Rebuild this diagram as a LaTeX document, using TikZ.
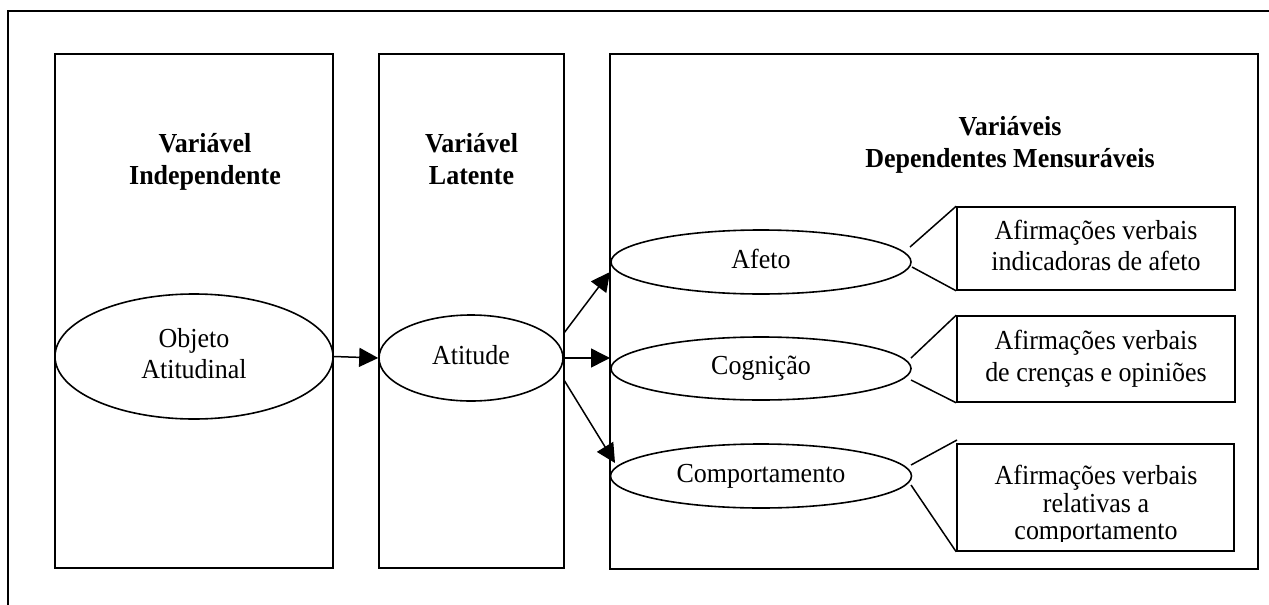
\documentclass[tikz,border=0pt]{standalone}
\usepackage{fontspec}
\setmainfont{Liberation Serif}[FakeStretch=0.945]
\usetikzlibrary{shapes.geometric,arrows.meta}
\newcommand\diagfs{\fontsize{27.5}{31.6}\selectfont}
\newcommand\tightfs{\fontsize{27.5}{26.6}\selectfont}
\begin{document}
\begin{tikzpicture}[x=1pt,y=-1pt,line width=1.6pt,
  panel/.style={draw,rectangle,inner sep=0pt},
  oval/.style={draw,ellipse,inner sep=0pt,align=center,font=\diagfs},
  head/.style={inner sep=0pt,align=center,font=\diagfs\bfseries},
  note/.style={draw,rectangle,inner sep=0pt,align=center,font=\diagfs},
  plain/.style={inner sep=0pt,align=center},
  arr/.style={line width=1.5pt,-{Triangle[length=19pt,width=19pt]}},
  tie/.style={line width=1.5pt}]
\useasboundingbox (0,0) rectangle (1269,605);

% page frame (top and left edges only)
\draw[line width=2pt] (8,605) -- (8,11) -- (1269,11);

% the three columns
\node[panel,minimum width=278pt,minimum height=514pt] (colA) at (194,311) {};
\node[panel,minimum width=185pt,minimum height=514pt] (colB) at (471.5,311) {};
\node[panel,minimum width=648pt,minimum height=515pt] (colC) at (934,311.5) {};

% column headings
\node[head] (hA) at (205,162.2) {\strut Variável\\\strut Independente};
\node[head] (hB) at (471.5,162.2) {\strut Variável\\\strut Latente};
\node[head] (hC) at (1010,145.2) {\strut Variáveis\\\strut Dependentes Mensuráveis};

% ellipses
\node[oval,minimum width=278pt,minimum height=125pt] (obj) at (194,356.5) {\strut Objeto\\\strut Atitudinal};
\node[oval,minimum width=184pt,minimum height=86pt] (att) at (471,358) {\strut Atitude};
\node[oval,minimum width=300pt,minimum height=64pt] (afe) at (761,262) {\strut Afeto};
\node[oval,minimum width=300pt,minimum height=63pt] (cog) at (761,368.5) {\strut Cognição};
\node[oval,minimum width=301pt,minimum height=64pt] (com) at (761,476) {\strut Comportamento};

% statement boxes
\node[note,minimum width=278pt,minimum height=83pt] (sA) at (1096,248.5) {\strut Afirmações verbais\\\strut indicadoras de afeto};
\node[note,minimum width=278pt,minimum height=86pt] (sB) at (1096,359) {\strut Afirmações verbais\\\strut de crenças e opiniões};
\node[panel,minimum width=277pt,minimum height=107pt] (sC) at (1095.5,497.5) {};
\begin{scope}
  \clip (957,444) rectangle (1235,541);
  \node[plain,font=\tightfs] (tC) at (1096,506.2) {\strut Afirmações verbais\\\strut relativas a\\\strut comportamento};
\end{scope}

% arrows
\draw[arr] (obj.east) -- (att.west);
\coordinate (o1) at (564,333);
\coordinate (o2) at (564,358);
\coordinate (o3) at (564,380);
\coordinate (i1) at (610,272);
\coordinate (i2) at (610,358);
\coordinate (i3) at (615,463);
\draw[arr] (o1) -- (i1);
\draw[arr] (o2) -- (i2);
\draw[arr] (o3) -- (i3);

% callout ties from ellipses to statement boxes
\coordinate (a1) at (910,247);
\coordinate (a2) at (912,267);
\coordinate (b1) at (911,358);
\coordinate (b2) at (911,380);
\coordinate (c1) at (911,465);
\coordinate (c2) at (911,485);
\coordinate (cTop) at (957,440);
\draw[tie] (a1) -- (sA.north west);
\draw[tie] (a2) -- (sA.south west);
\draw[tie] (b1) -- (sB.north west);
\draw[tie] (b2) -- (sB.south west);
\draw[tie] (c1) -- (cTop);
\draw[tie] (c2) -- (sC.south west);
\end{tikzpicture}
\end{document}
